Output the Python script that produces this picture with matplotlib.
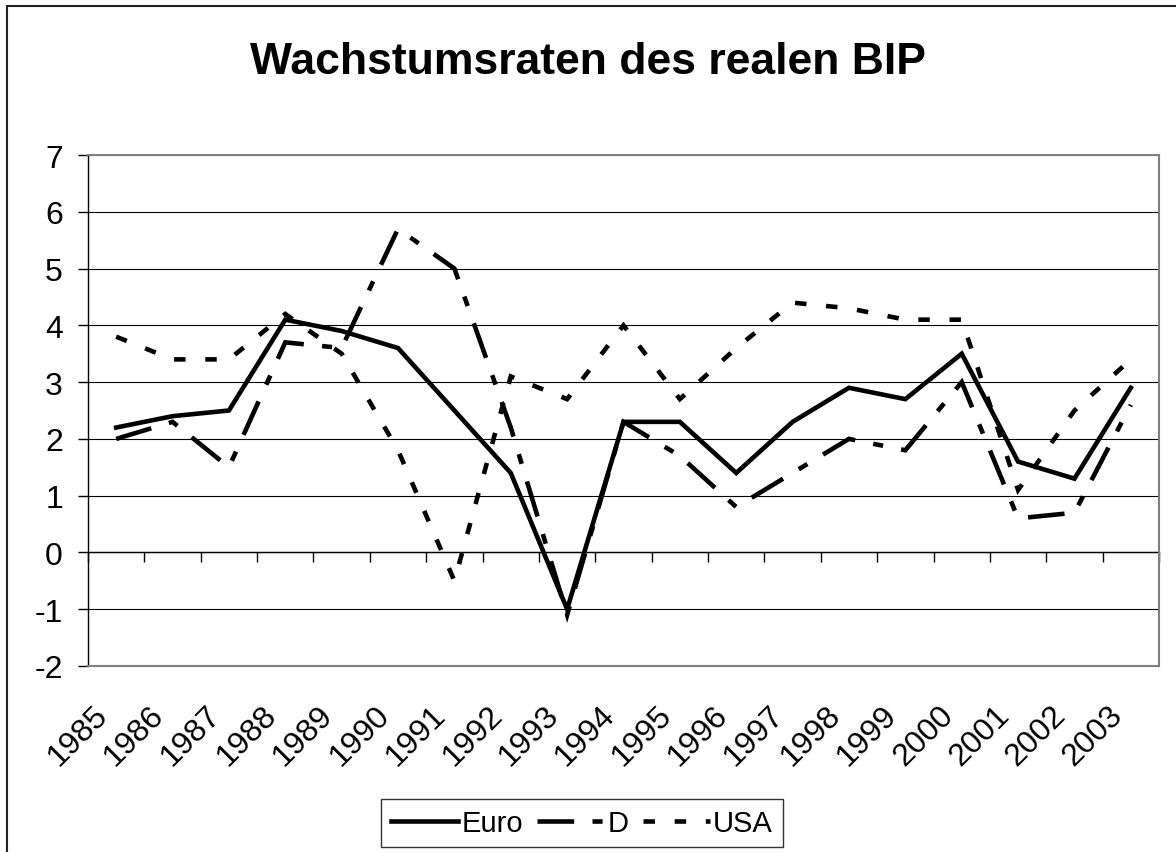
import numpy as np
import matplotlib
matplotlib.use("Agg")
import matplotlib.pyplot as plt
from matplotlib.patches import Rectangle
from matplotlib.transforms import ScaledTranslation

plt.rcParams['font.family'] = ['Liberation Sans', 'DejaVu Sans']

years = [str(y) for y in range(1985, 2004)]
euro = [2.2, 2.4, 2.5, 4.1, 3.9, 3.6, 2.5, 1.4, -1.0, 2.3, 2.3, 1.4, 2.3, 2.9, 2.7, 3.5, 1.6, 1.3, 2.9]
de = [2.0, 2.3, 1.5, 3.7, 3.6, 5.7, 5.0, 2.2, -1.1, 2.3, 1.7, 0.8, 1.4, 2.0, 1.8, 3.0, 0.6, 0.7, 2.6]
usa = [3.8, 3.4, 3.4, 4.2, 3.5, 1.8, -0.5, 3.1, 2.7, 4.0, 2.7, 3.6, 4.4, 4.3, 4.1, 4.1, 1.1, 2.5, 3.4]
yticks = list(range(-2, 8))

W, H = 1176, 853
fig = plt.figure(figsize=(W / 100, H / 100), dpi=100)
ax = fig.add_axes([88 / W, 1 - 667 / H, (1159 - 88) / W, (667 - 156) / H])

x = np.arange(len(years))
lw = 3.3
ax.plot(x, euro, color='black', lw=lw, solid_joinstyle='miter', label='Euro', zorder=5)
ax.plot(x, de, color='black', lw=lw, linestyle=(0, (8, 4, 2.2, 4)),
        dash_capstyle='butt', dash_joinstyle='miter', label='D', zorder=4)
ax.plot(x, usa, color='black', lw=lw, linestyle=(0, (2.5, 4.3)),
        dash_capstyle='butt', dash_joinstyle='miter', label='USA', zorder=3)

ax.set_xlim(-0.5, len(years) - 0.5)
ax.set_ylim(-2, 7)
ax.set_yticks(yticks)
ax.set_yticklabels([str(v) for v in yticks])
ax.yaxis.grid(True, color='black', lw=0.8)
ax.set_axisbelow(True)
ax.tick_params(axis='y', direction='out', length=7, width=1, pad=11, labelsize=23)

# category labels under the plot, rotated
ax.set_xticks(x)
ax.set_xticklabels(years, rotation=45, ha='right', va='center', rotation_mode='anchor', fontsize=23)
ax.tick_params(axis='x', length=0, pad=32)
for lab in ax.get_xticklabels():
    lab.set_transform(lab.get_transform() + ScaledTranslation(-13 / 100, 0, fig.dpi_scale_trans))

for s in ['top', 'right', 'bottom']:
    ax.spines[s].set_color('#808080')
    ax.spines[s].set_linewidth(1.5)
ax.spines['left'].set_color('black')
ax.spines['left'].set_linewidth(1)

# category axis crossing at zero, ticks between categories
sec = ax.secondary_xaxis(2 / 9)
sec.set_xticks(np.arange(len(years) + 1) - 0.5)
sec.set_xticklabels([])
sec.tick_params(direction='out', length=7, width=1, color='black')
sec.spines['bottom'].set_color('black')
sec.spines['bottom'].set_linewidth(1)

fig.text(0.5, 1 - 62 / H, 'Wachstumsraten des realen BIP', ha='center', va='center',
         fontsize=32, fontweight='bold')

leg = fig.legend(loc='lower center', bbox_to_anchor=(582 / W, 5 / H), ncol=3, fontsize=21,
                 frameon=True, fancybox=False, shadow=False, edgecolor='black',
                 handlelength=2.3, handletextpad=0.1, columnspacing=0.5,
                 borderpad=0.35, borderaxespad=0)
leg.get_frame().set_linewidth(1)

fig.patches.append(Rectangle((7 / W, -0.1), 1.2, 1.1 - 7 / H, transform=fig.transFigure,
                             fill=False, edgecolor='#222222', lw=1.5))

fig.savefig('out.png', dpi=100)
